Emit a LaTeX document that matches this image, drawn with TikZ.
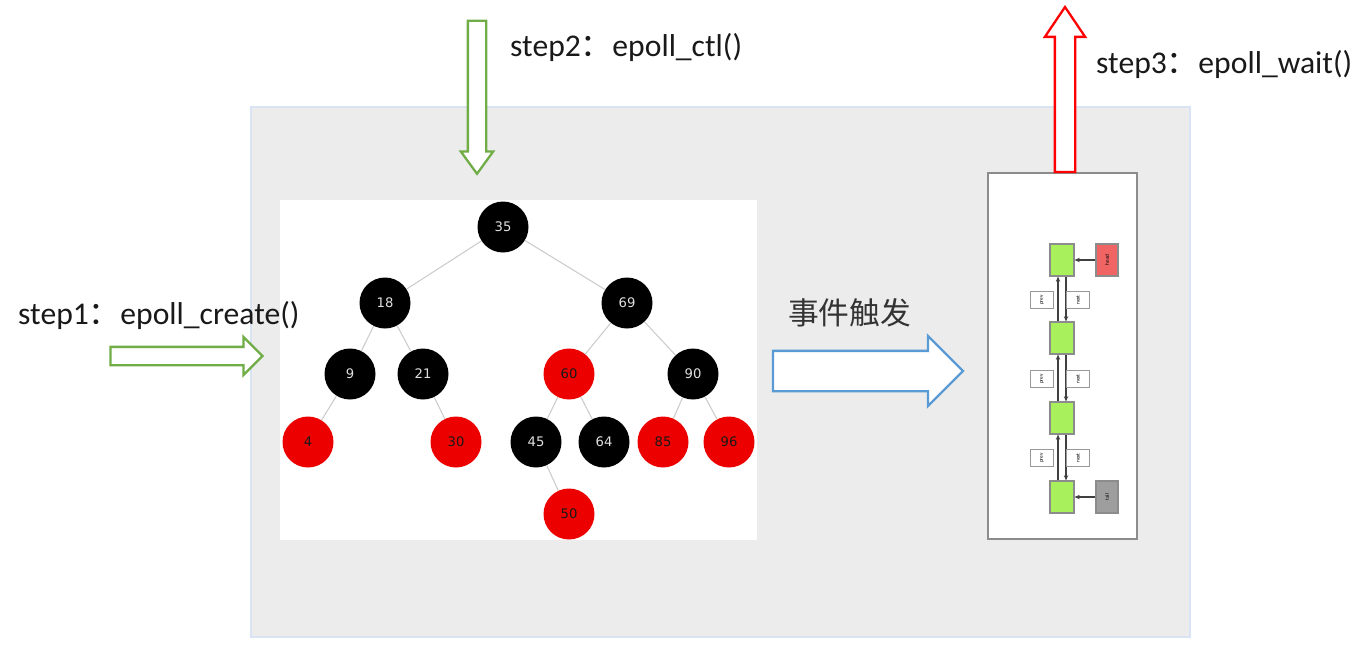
\documentclass[tikz,border=0pt]{standalone}
\usepackage{fontspec}
\setmainfont{Carlito}
\newfontfamily\cjk{Noto Sans CJK SC}
\newfontfamily\treefont{DejaVu Sans}
\usetikzlibrary{arrows.meta, shapes.arrows, positioning}
\definecolor{stepgreen}{RGB}{112,173,71}
\definecolor{stepred}{RGB}{255,0,0}
\definecolor{eventblue}{RGB}{91,155,213}
\definecolor{panelgray}{RGB}{236,236,236}
\definecolor{panelline}{RGB}{218,227,243}
\definecolor{rbred}{RGB}{236,0,0}
\definecolor{listgreen}{RGB}{168,240,92}
\definecolor{headred}{RGB}{240,100,100}

\begin{document}
\begin{tikzpicture}[x=0.02cm, y=-0.02cm,
    blacknode/.style={circle, fill=black, text=black!12, minimum size=1.02cm, inner sep=0pt, font=\treefont\fontsize{7.5}{8}\selectfont},
    rednode/.style={blacknode, fill=rbred, text=black!90},
    treeedge/.style={draw=black!20, line width=0.6pt},
    bigarrow/.style={single arrow, draw=#1, fill=white, line width=1.3pt, inner xsep=0pt, minimum width=0pt},
    steptext/.style={anchor=west, font=\fontsize{18}{20}\selectfont, text=black!90},
    listbox/.style={draw=black!45, line width=0.6pt, minimum width=0.48cm, minimum height=0.64cm, inner sep=0pt, font=\fontsize{3}{3}\selectfont},
    tagbox/.style={draw=black!40, fill=white, line width=0.5pt, minimum width=0.35cm, minimum height=0.46cm, inner sep=0pt, font=\fontsize{3}{3}\selectfont, rotate=90},
    linkarrow/.style={-{Stealth[length=3pt, width=2.5pt]}, draw=black!75, line width=0.6pt}]
    \useasboundingbox (0,0) rectangle (1364,650);

    % Background panel
    \filldraw[fill=panelgray, draw=panelline, line width=1pt] (251,107) rectangle (1190,637);

    % Red-black tree
    \fill[white] (280,200) rectangle (757,540);
    \node[blacknode] (n35) at (503,227) {35};
    \node[blacknode] (n18) at (385,303) {18};
    \node[blacknode] (n69) at (627,303) {69};
    \node[blacknode] (n9)  at (350,374) {9};
    \node[blacknode] (n21) at (423,374) {21};
    \node[rednode]   (n60) at (569,374) {60};
    \node[blacknode] (n90) at (693,374) {90};
    \node[rednode]   (n4)  at (308,442) {4};
    \node[rednode]   (n30) at (456,442) {30};
    \node[blacknode] (n45) at (536,442) {45};
    \node[blacknode] (n64) at (604,442) {64};
    \node[rednode]   (n85) at (663,442) {85};
    \node[rednode]   (n96) at (729,442) {96};
    \node[rednode]   (n50) at (569,514) {50};
    \foreach \a/\b in {n35/n18, n35/n69, n18/n9, n18/n21, n9/n4, n21/n30,
                       n69/n60, n69/n90, n60/n45, n60/n64, n90/n85, n90/n96, n45/n50}
        \draw[treeedge] (\a) -- (\b);

    % Ready list
    \filldraw[fill=white, draw=black!45, line width=0.8pt] (988,173) rectangle (1137,539);
    \node[listbox, fill=listgreen] (g1) at (1062,260) {};
    \node[listbox, fill=listgreen] (g2) at (1062,338) {};
    \node[listbox, fill=listgreen] (g3) at (1062,418) {};
    \node[listbox, fill=listgreen] (g4) at (1062,497) {};
    \node[listbox, fill=headred, minimum width=0.44cm] (lhead) at (1107,260) {\rotatebox{90}{head}};
    \node[listbox, fill=black!38, minimum width=0.44cm] (ltail) at (1107,497) {\rotatebox{90}{tail}};
    \draw[linkarrow] (lhead) -- (g1);
    \draw[linkarrow] (ltail) -- (g4);
    \foreach \u/\d/\y in {g1/g2/300, g2/g3/379, g3/g4/458} {
        \draw[linkarrow] ([xshift=-0.08cm]\d.north) -- ([xshift=-0.08cm]\u.south);
        \draw[linkarrow] ([xshift=0.08cm]\u.south) -- ([xshift=0.08cm]\d.north);
        \node[tagbox] (p\u) at (1042,\y) {prev};
        \node[tagbox] (x\u) at (1078,\y) {next};
    }

    % Step arrows
    \node[bigarrow=stepgreen, minimum height=3.04cm, inner ysep=0.16cm,
          single arrow head extend=0.2cm] (a1) at (182,356) {};
    \node[bigarrow=stepgreen, minimum height=3.06cm, inner ysep=0.16cm,
          single arrow head extend=0.14cm, single arrow tip angle=72, rotate=-90] (a2) at (477,91) {};
    \node[bigarrow=stepred, minimum height=3.3cm, inner ysep=0.18cm,
          single arrow head extend=0.2cm, single arrow tip angle=68, rotate=90] (a3) at (1065,97) {};
    \node[bigarrow=eventblue, minimum height=3.8cm, inner ysep=0.38cm,
          single arrow head extend=0.3cm] (a4) at (858,371) {};

    % Labels
    \node[steptext] (t1) at (12,315) {step1{\cjk ：}epoll\_create()};
    \node[steptext] (t2) at (504,47) {step2{\cjk ：}epoll\_ctl()};
    \node[steptext] (t3) at (1090,64) {step3{\cjk ：}epoll\_wait()};
    \node[anchor=west, font=\cjk\fontsize{17.5}{20}\selectfont, text=black!80] (ev) at (782,313) {事件触发};
\end{tikzpicture}
\end{document}
